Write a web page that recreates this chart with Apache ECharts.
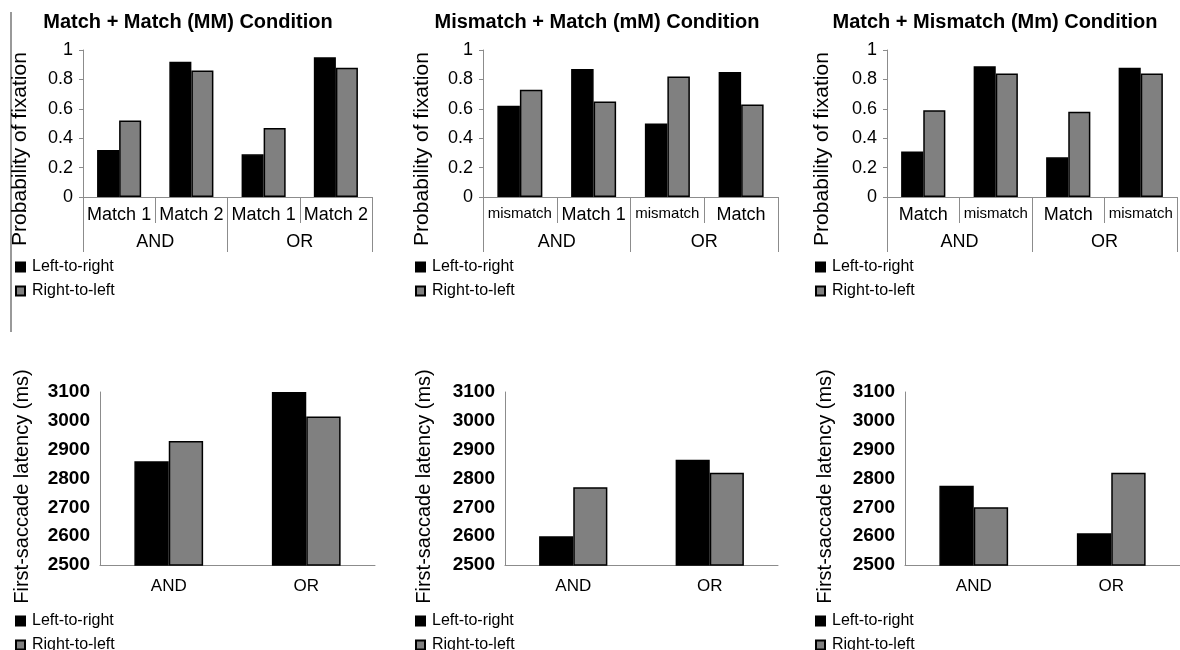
<!DOCTYPE html>
<html>
<head>
<meta charset="utf-8">
<script src="https://cdn.jsdelivr.net/npm/echarts@6/dist/echarts.min.js"></script>
<style>
  html, body { margin: 0; padding: 0; background: #fff; }
  #main { width: 1180px; height: 650px; }
</style>
</head>
<body>
<div id="main"></div>
<script>
// data
var groups = ['AND', 'OR'];
var seriesNames = ['Left-to-right', 'Right-to-left'];
var panelTitles = ['Match + Match (MM) Condition', 'Mismatch + Match (mM) Condition', 'Match + Mismatch (Mm) Condition'];

var mmCats = ['Match 1', 'Match 2', 'Match 1', 'Match 2'];
var mMCats = ['mismatch', 'Match 1', 'mismatch', 'Match'];
var MmCats = ['Match', 'mismatch', 'Match', 'mismatch'];

var mmFixL2R = [0.32, 0.92, 0.29, 0.95];
var mmFixR2L = [0.52, 0.86, 0.47, 0.88];
var mMFixL2R = [0.62, 0.87, 0.50, 0.85];
var mMFixR2L = [0.73, 0.65, 0.82, 0.63];
var MmFixL2R = [0.31, 0.89, 0.27, 0.88];
var MmFixR2L = [0.59, 0.84, 0.58, 0.84];

var mmLatL2R = [2860, 3100];
var mmLatR2L = [2930, 3015];
var mMLatL2R = [2600, 2865];
var mMLatR2L = [2770, 2820];
var MmLatL2R = [2775, 2610];
var MmLatR2L = [2700, 2820];

var fixTicks = { min: 0, max: 1, interval: 0.2 };
var latTicks = { min: 2500, max: 3100, interval: 100 };

var topCats = [mmCats, mMCats, MmCats];
var topData = [[mmFixL2R, mmFixR2L], [mMFixL2R, mMFixR2L], [MmFixL2R, MmFixR2L]];
var botData = [[mmLatL2R, mmLatR2L], [mMLatL2R, mMLatR2L], [MmLatL2R, MmLatR2L]];

// layout
var font = 'Liberation Sans, Arial, sans-serif';
var barColors = ['#000000', '#808080'];
var axisGray = '#8c8c8c';
var topGrid = [{ left: 83, width: 289 }, { left: 483, width: 295 }, { left: 887, width: 290 }];
var botGrid = [{ left: 100, width: 275 }, { left: 505, width: 273 }, { left: 905, width: 275 }];
var titleX = [188, 597, 995];
var legendX = [15, 415, 815];
var topNameGap = [52, 50, 54];
var botNameGap = [68, 71, 70];

var grids = [], xAxes = [], yAxes = [], series = [], legends = [], titles = [];

for (var i = 0; i < 3; i++) {
  titles.push({
    text: panelTitles[i], left: titleX[i], top: 12, textAlign: 'center', padding: 0,
    textStyle: { fontFamily: font, fontSize: 20, fontWeight: 'bold', color: '#000' }
  });
  grids.push({ left: topGrid[i].left, width: topGrid[i].width, top: 50, height: 147 });
}
for (var i = 0; i < 3; i++) {
  grids.push({ left: botGrid[i].left, width: botGrid[i].width, top: 392, height: 173 });
}

// top panels: two-level category axis
for (var i = 0; i < 3; i++) {
  xAxes.push({
    type: 'category', gridIndex: i, position: 'bottom',
    data: topCats[i].map(function (c) {
      return c === 'mismatch' ? { value: c, textStyle: { fontSize: 15 } } : c;
    }),
    axisLine: { lineStyle: { color: axisGray, width: 1 } },
    axisTick: { show: true, length: 26, lineStyle: { color: axisGray } },
    axisLabel: { interval: 0, margin: 9, color: '#000', fontFamily: font, fontSize: 18 }
  });
  xAxes.push({
    type: 'category', gridIndex: i, position: 'bottom',
    data: groups,
    axisLine: { show: false },
    axisTick: { show: true, length: 55, lineStyle: { color: axisGray } },
    axisLabel: { interval: 0, margin: 36, color: '#000', fontFamily: font, fontSize: 18 }
  });
  yAxes.push({
    type: 'value', gridIndex: i,
    min: fixTicks.min, max: fixTicks.max, interval: fixTicks.interval,
    name: 'Probability of fixation', nameLocation: 'middle', nameGap: topNameGap[i],
    nameTextStyle: { fontFamily: font, fontSize: 21, color: '#000', padding: [0, 51, 0, 0] },
    axisLine: { show: true, lineStyle: { color: axisGray } },
    axisTick: { show: true, length: 4, lineStyle: { color: axisGray } },
    splitLine: { show: false },
    axisLabel: { margin: 10, color: '#000', fontFamily: font, fontSize: 18 }
  });
}
// bottom panels
for (var i = 0; i < 3; i++) {
  xAxes.push({
    type: 'category', gridIndex: 3 + i, position: 'bottom', data: groups,
    axisLine: { lineStyle: { color: axisGray } },
    axisTick: { show: false },
    axisLabel: { margin: 13, color: '#000', fontFamily: font, fontSize: 17 }
  });
  yAxes.push({
    type: 'value', gridIndex: 3 + i,
    min: latTicks.min, max: latTicks.max, interval: latTicks.interval,
    name: 'First-saccade latency (ms)', nameLocation: 'middle', nameGap: botNameGap[i],
    nameTextStyle: { fontFamily: font, fontSize: 20, color: '#000', padding: [0, 16, 0, 0] },
    axisLine: { show: true, lineStyle: { color: axisGray } },
    axisTick: { show: false },
    splitLine: { show: false },
    axisLabel: {
      margin: 10, color: '#000', fontFamily: font, fontSize: 19, fontWeight: 'bold',
      formatter: function (v) { return String(v); }
    }
  });
}

for (var i = 0; i < 3; i++) {
  for (var s = 0; s < 2; s++) {
    series.push({
      name: seriesNames[s], type: 'bar', xAxisIndex: 2 * i, yAxisIndex: i,
      data: topData[i][s], barGap: '0%', barCategoryGap: '39%',
      itemStyle: { color: barColors[s], borderColor: '#000', borderWidth: 1.5 }
    });
  }
}
for (var i = 0; i < 3; i++) {
  for (var s = 0; s < 2; s++) {
    series.push({
      name: seriesNames[s], type: 'bar', xAxisIndex: 6 + i, yAxisIndex: 3 + i,
      data: botData[i][s], barGap: '0%', barCategoryGap: '50%',
      itemStyle: { color: barColors[s], borderColor: '#000', borderWidth: 1.5 }
    });
  }
}

var legendTops = [259, 613];
for (var r = 0; r < 2; r++) {
  for (var i = 0; i < 3; i++) {
    legends.push({
      data: seriesNames, orient: 'vertical', left: legendX[i], top: legendTops[r],
      width: 200, height: 60,
      icon: 'rect', itemWidth: 9, itemHeight: 9, itemGap: 8, padding: 0,
      selectedMode: false,
      textStyle: { fontFamily: font, fontSize: 16, color: '#000', padding: [0, 0, 0, 2] }
    });
  }
}

var chart = echarts.init(document.getElementById('main'));
chart.setOption({
  backgroundColor: '#fff',
  animation: false,
  title: titles,
  legend: legends,
  grid: grids,
  xAxis: xAxes,
  yAxis: yAxes,
  series: series,
  graphic: [{
    type: 'line', shape: { x1: 11, y1: 12, x2: 11, y2: 332 },
    style: { stroke: '#777', lineWidth: 1.5 }
  }]
});
</script>
</body>
</html>
